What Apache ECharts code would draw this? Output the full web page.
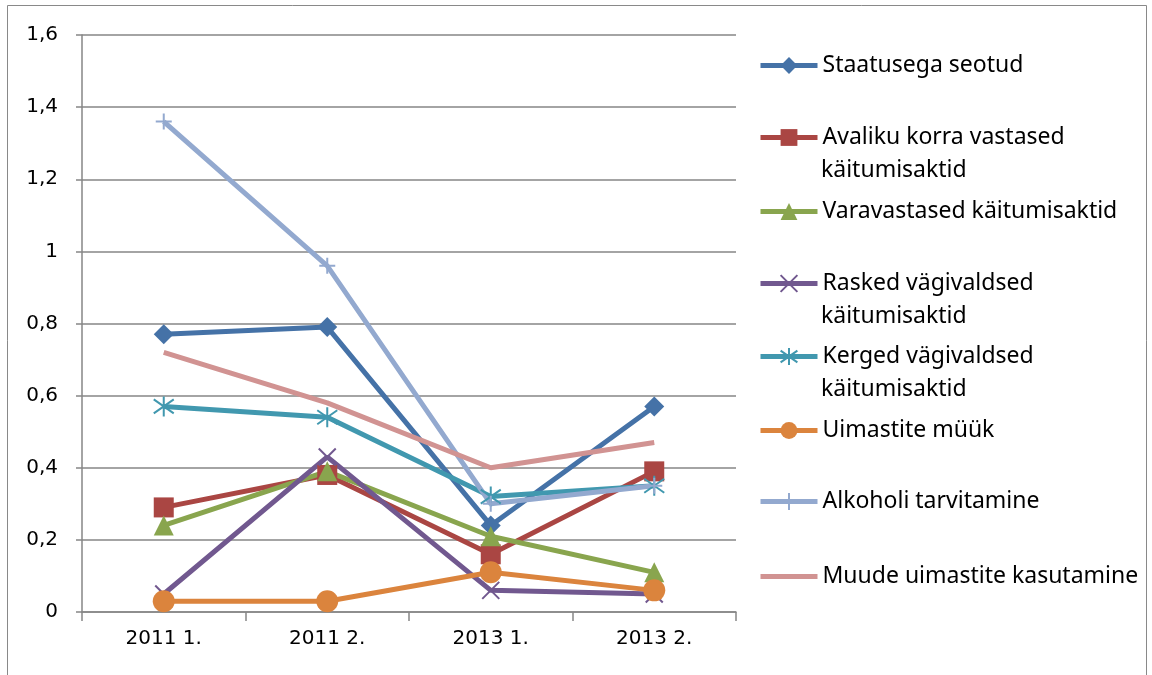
<!DOCTYPE html>
<html>
<head>
<meta charset="utf-8">
<script src="https://cdn.jsdelivr.net/npm/echarts@6/dist/echarts.min.js"></script>
<style>
  html, body { margin: 0; padding: 0; background: #fff; }
  #main { width: 1152px; height: 675px; }
</style>
</head>
<body>
<div id="main"></div>
<script>
const categories = ['2011 1.', '2011 2.', '2013 1.', '2013 2.'];
const yTicks = [0, 0.2, 0.4, 0.6, 0.8, 1, 1.2, 1.4, 1.6];

const staatusega = [0.77, 0.79, 0.24, 0.57];
const avaliku = [0.29, 0.38, 0.16, 0.39];
const varavastased = [0.24, 0.39, 0.21, 0.11];
const rasked = [0.05, 0.43, 0.06, 0.05];
const kerged = [0.57, 0.54, 0.32, 0.35];
const uimastiteMyyk = [0.03, 0.03, 0.11, 0.06];
const alkoholi = [1.36, 0.96, 0.30, 0.35];
const muude = [0.72, 0.58, 0.40, 0.47];

const names = [
    'Staatusega seotud',
    'Avaliku korra vastased käitumisaktid',
    'Varavastased käitumisaktid',
    'Rasked vägivaldsed käitumisaktid',
    'Kerged vägivaldsed käitumisaktid',
    'Uimastite müük',
    'Alkoholi tarvitamine',
    'Muude uimastite kasutamine'
];
// legend first line / second line as Excel wraps them
const firstLines = ['Staatusega seotud', 'Avaliku korra vastased', 'Varavastased käitumisaktid',
    'Rasked vägivaldsed', 'Kerged vägivaldsed', 'Uimastite müük', 'Alkoholi tarvitamine',
    'Muude uimastite kasutamine'];
const secondLines = ['', 'käitumisaktid', '', 'käitumisaktid', 'käitumisaktid', '', '', ''];

const values = [staatusega, avaliku, varavastased, rasked, kerged, uimastiteMyyk, alkoholi, muude];
const colors = ['#4572A7', '#AA4643', '#89A54E', '#71588F', '#4198AF', '#DB843D', '#93A9CF', '#D19392'];
const symbols = [
    'diamond', 'rect', 'triangle',
    'path://M0,0L10,10M10,0L0,10',
    'path://M5,0L5,10M0,1.5L10,8.5M10,1.5L0,8.5',
    'circle',
    'path://M5,0L5,10M0,5L10,5',
    'none'
];
const symbolSizes = [20, 20, 20, 17, 20, 22, 16, 0];

const legendCenters = [65, 137, 211, 283, 356, 430, 501, 576];
const legendFont = 'Noto Sans, Open Sans, sans-serif';
const axisFont = 'DejaVu Sans, sans-serif';

const chart = echarts.init(document.getElementById('main'));

const series = names.map((name, i) => ({
    name: name,
    type: 'line',
    data: values[i],
    symbol: symbols[i],
    symbolSize: symbolSizes[i],
    showSymbol: symbols[i] !== 'none',
    lineStyle: { color: colors[i], width: 5 },
    itemStyle: {
        color: colors[i],
        borderColor: colors[i],
        borderWidth: symbols[i].startsWith('path') ? 2 : 0
    },
    emphasis: { disabled: true },
    animation: false
}));

const legends = names.map((name, i) => ({
    data: [symbols[i] === 'none' ? { name: name, itemStyle: { opacity: 0 } } : name],
    orient: 'vertical',
    left: 758,
    top: legendCenters[i] - 11,
    padding: 0,
    itemWidth: 57,
    itemHeight: 21,
    itemGap: 0,
    lineStyle: { width: 5 },
    formatter: () => firstLines[i],
    textStyle: { fontFamily: legendFont, fontSize: 23, color: '#000' },
    selectedMode: false
}));

const graphics = [{
    type: 'rect',
    shape: { x: 7.5, y: 5.5, width: 1139, height: 680 },
    style: { fill: 'none', stroke: '#898989', lineWidth: 1 },
    silent: true
}];
secondLines.forEach((t, i) => {
    if (!t) return;
    graphics.push({
        type: 'text',
        style: {
            text: t,
            x: 821,
            y: legendCenters[i] + 33,
            verticalAlign: 'middle',
            fontFamily: legendFont,
            fontSize: 23,
            fill: '#000'
        },
        silent: true
    });
});

const option = {
    backgroundColor: '#fff',
    animation: false,
    grid: { left: 82, right: 416, top: 35, bottom: 63 },
    legend: legends,
    graphic: graphics,
    xAxis: {
        type: 'category',
        data: categories,
        boundaryGap: true,
        axisLine: { lineStyle: { color: '#868686', width: 1.5 } },
        axisTick: { show: true, length: 9, inside: false, lineStyle: { color: '#868686', width: 1.5 } },
        axisLabel: { fontFamily: axisFont, fontSize: 20, color: '#000', margin: 17 }
    },
    yAxis: {
        type: 'value',
        min: yTicks[0],
        max: yTicks[yTicks.length - 1],
        interval: 0.2,
        axisLine: { show: true, lineStyle: { color: '#868686', width: 1.5 } },
        axisTick: { show: true, length: 6, lineStyle: { color: '#868686', width: 1.5 } },
        splitLine: { lineStyle: { color: '#868686', width: 1.5 } },
        axisLabel: {
            fontFamily: axisFont,
            fontSize: 20,
            color: '#000',
            margin: 24,
            formatter: v => String(Math.round(v * 10) / 10).replace('.', ',')
        }
    },
    series: series
};

chart.setOption(option);
</script>
</body>
</html>
